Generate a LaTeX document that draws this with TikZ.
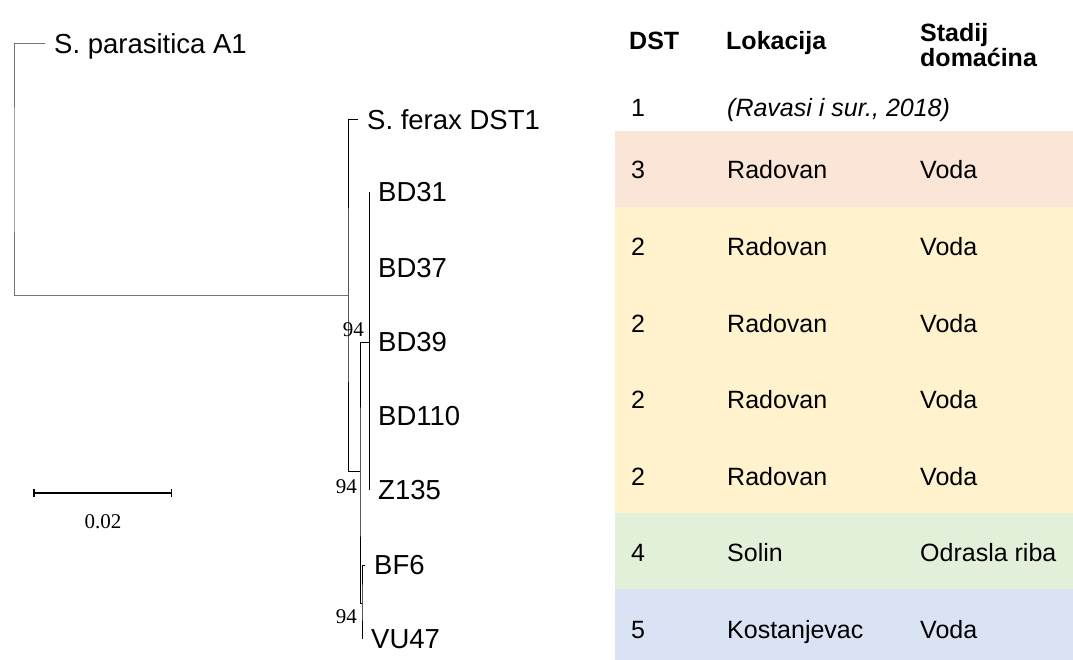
\documentclass[tikz,border=0pt]{standalone}
\usepackage{fontspec}
\setmainfont{Liberation Sans}
\newfontfamily\numfont{Liberation Serif}
\usetikzlibrary{arrows.meta}

\definecolor{rowpink}{HTML}{FBE5D6}
\definecolor{rowyellow}{HTML}{FFF2CC}
\definecolor{rowgreen}{HTML}{E2F0D9}
\definecolor{rowblue}{HTML}{DAE3F3}

\tikzset{
  branch/.style={line width=1pt},
  leaf/.style={anchor=west,inner xsep=9pt,inner ysep=0pt,
    text height=19.7pt,text depth=0pt,font=\fontsize{27.5}{32}\selectfont},
  boot/.style={anchor=base east,inner sep=0pt,font=\numfont\fontsize{21}{24}\selectfont},
  cell/.style={anchor=west,inner sep=0pt,text height=17.9pt,text depth=0pt,
    font=\fontsize{25}{30}\selectfont},
  head/.style={anchor=west,inner sep=0pt,text height=17.9pt,text depth=0pt,
    font=\bfseries\fontsize{25}{25}\selectfont}
}

\begin{document}
\begin{tikzpicture}[x=1pt,y=-1pt]
\useasboundingbox (0,0) rectangle (1073,660);

% row colours
\fill[rowpink] (615,131) rectangle (1073,207);
\fill[rowyellow] (615,207) rectangle (1073,513);
\fill[rowgreen] (615,513) rectangle (1073,589);
\fill[rowblue] (615,589) rectangle (1073,660);

% tree
\coordinate (n0) at (14,170);
\coordinate (nA) at (348,295);
\coordinate (nB) at (360,471);
\coordinate (nC) at (362,603);
\coordinate (nD) at (369,342);

\node[leaf] (par) at (45,44) {S. parasitica A1};
\node[leaf] (fer) at (358,120) {S. ferax DST1};
\foreach \n/\y in {BD31/192,BD37/268,BD39/342,BD110/416,Z135/490}
  \node[leaf] (\n) at (369,\y) {\n};
\node[leaf] (BF6) at (365,565) {BF6};
\node[leaf] (VU47) at (362,639) {VU47};

\draw[branch,black!55] (par.west) -| (n0) |- (nA);
\draw[branch] (fer.west) -| (nA) |- (nB);
\draw[branch] (nD) -| (nB) |- (nC);
\draw[branch] (BF6.west) -| (nC) |- (VU47.west);
\draw[branch] (BD31.west) -- (Z135.west);

\node[boot] (bD) at (364,336) {94};
\node[boot] (bB) at (357,493) {94};
\node[boot] (bC) at (357,623) {94};

% scale
\coordinate (s1) at (33,493);
\coordinate (s2) at (172,493);
\draw[line width=1.5pt,{Bar[width=8pt]}-{Bar[width=8pt]}] (s1) -- (s2);
\node[boot,anchor=base] (sc) at (103,528) {0.02};

% table
\node[head] (hdst) at (629,41) {DST};
\node[head] (hloc) at (726,41) {Lokacija};
\node[anchor=north west,inner sep=0pt,align=left,
  font=\bfseries\fontsize{25}{25}\selectfont] (hst) at (920,23) {Stadij\\doma\'cina};

\node[cell] (d0) at (631,108) {1};
\node[cell] (l0) at (727,108) {\itshape (Ravasi i sur., 2018)};
\foreach \i/\d/\loc/\st in {1/3/Radovan/Voda,2/2/Radovan/Voda,3/2/Radovan/Voda,
    4/2/Radovan/Voda,5/2/Radovan/Voda,6/4/Solin/Odrasla riba,7/5/Kostanjevac/Voda}
{
  \node[cell] (d\i) at (631,{93.4+76.6*\i}) {\d};
  \node[cell] (l\i) at (727,{93.4+76.6*\i}) {\loc};
  \node[cell] (s\i) at (920,{93.4+76.6*\i}) {\st};
}
\end{tikzpicture}
\end{document}
